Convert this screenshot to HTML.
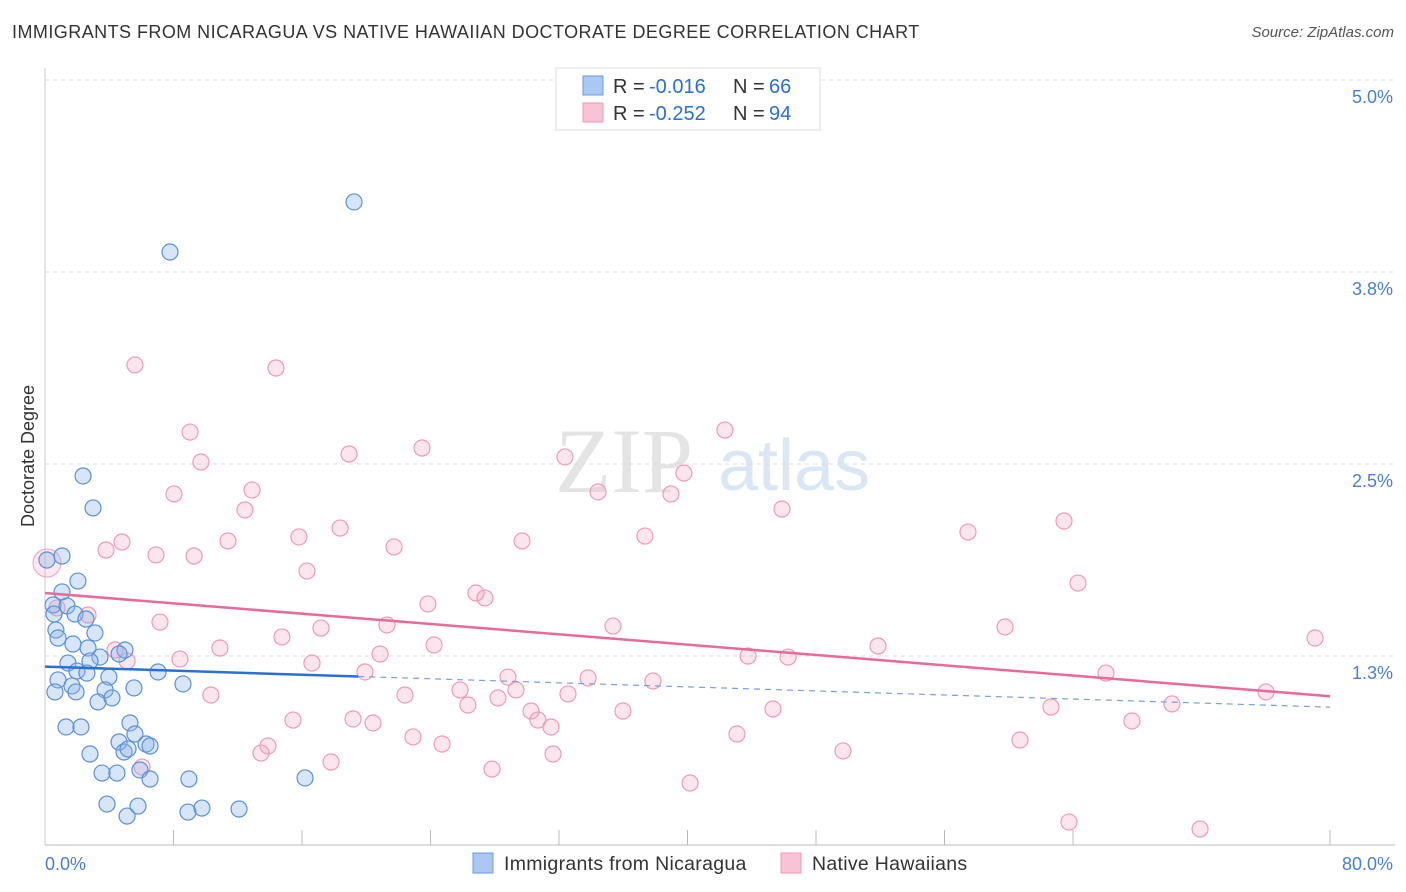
<!DOCTYPE html>
<html><head><meta charset="utf-8">
<style>
body{margin:0;background:#fff;font-family:"Liberation Sans",sans-serif;}
#wrap{position:relative;width:1406px;height:892px;overflow:hidden;}
.title{position:absolute;left:12px;top:22px;font-size:18px;color:#333;letter-spacing:0.45px;}
.source{position:absolute;right:12px;top:24px;font-size:15px;color:#555;font-style:italic;}
</style></head><body>
<div id="wrap">
<div class="title">IMMIGRANTS FROM NICARAGUA VS NATIVE HAWAIIAN DOCTORATE DEGREE CORRELATION CHART</div>
<div class="source">Source: ZipAtlas.com</div>
<svg id="svg" width="1406" height="892" style="position:absolute;left:0;top:0"></svg>
</div>
<script>
const bluePx=[[354,202],[170,252],[83,476],[93,508],[47,560],[62,556],[78,581],[62,592],[53,605],[67,606],[54,614],[75,614],[86,619],[56,630],[95,633],[58,638],[73,644],[88,648],[125,650],[119,654],[100,657],[90,661],[68,663],[77,671],[87,673],[109,677],[158,672],[58,680],[72,686],[105,690],[134,688],[183,684],[55,692],[76,692],[98,702],[112,698],[130,723],[66,727],[81,727],[135,734],[119,742],[146,744],[150,746],[124,752],[128,749],[90,754],[140,770],[102,773],[117,773],[150,779],[189,779],[305,778],[107,804],[138,806],[188,812],[202,808],[239,809],[127,816]];
const pinkPx=[[135,365],[276,368],[190,432],[725,430],[201,462],[349,454],[422,448],[565,457],[684,473],[174,494],[252,490],[598,492],[671,494],[245,510],[782,509],[340,528],[299,537],[1064,521],[968,532],[122,542],[228,541],[522,541],[645,536],[106,550],[156,555],[194,556],[394,547],[307,571],[1078,583],[476,593],[485,598],[428,604],[57,608],[88,615],[160,622],[613,626],[1005,627],[387,625],[321,628],[282,637],[434,645],[1315,638],[220,648],[115,650],[127,661],[180,659],[380,654],[878,646],[748,656],[788,657],[312,663],[365,672],[1106,673],[508,677],[588,678],[653,681],[460,690],[516,690],[405,695],[568,694],[1266,692],[211,695],[468,705],[498,698],[531,711],[623,711],[1051,707],[1172,704],[773,709],[293,720],[353,719],[373,723],[538,720],[551,727],[1132,721],[413,737],[442,744],[737,734],[1020,740],[268,746],[261,753],[843,751],[331,762],[553,754],[492,769],[142,767],[690,783],[1069,822],[1200,829]];
const X0=45,X1=1330,Y0=848,YS=153.6;
const blueX=bluePx.map(p=>+((p[0]-X0)/(X1-X0)*80).toFixed(2));
const blueY=bluePx.map(p=>+((Y0-p[1])/YS).toFixed(3));
const pinkX=pinkPx.map(p=>+((p[0]-X0)/(X1-X0)*80).toFixed(2));
const pinkY=pinkPx.map(p=>+((Y0-p[1])/YS).toFixed(3));
const yTicks=[5.0,3.75,2.5,1.25];
const yTickLabels=["5.0%","3.8%","2.5%","1.3%"];
const blueTrend=[0,1.181,80,0.917];
const pinkTrend=[0,1.66,80,0.988];
const sx=v=>X0+v/80*(X1-X0), sy=v=>Y0-v*YS;
const svg=document.getElementById('svg'),NS='http://www.w3.org/2000/svg';
function mk(t,a,p){const e=document.createElementNS(NS,t);for(const k in a)e.setAttribute(k,a[k]);(p||svg).appendChild(e);return e;}
let w=mk('text',{x:555,y:492,'font-size':92,fill:'#e4e4e4','font-family':'Liberation Serif'});w.textContent='ZIP';


let w2=mk('text',{x:718,y:490,'font-size':72,fill:'#dbe6f5'});w2.textContent='atlas';


yTicks.forEach((v,i)=>{
 const g=mk('line',{x1:45,x2:1395,y1:sy(v),y2:sy(v),stroke:'#ddd','stroke-dasharray':'4,4'});
 
 
 const t=mk('text',{x:1393,y:sy(v)+23,'text-anchor':'end','font-size':18,fill:'#4a7fd0'});t.textContent=yTickLabels[i];
 
 
});
let ax=mk('line',{x1:45,x2:1395,y1:845,y2:845,stroke:'#bbb'});


let ay=mk('line',{x1:45,x2:45,y1:68,y2:845,stroke:'#ccc'});


for(let i=1;i<=10;i++){if(i==9)continue;const x=sx(i*8);const tk=mk('line',{x1:x,x2:x,y1:830,y2:845,stroke:'#bbb'});
 
 }
let xl=mk('text',{x:45,y:870,'font-size':18,fill:'#4a7fd0'});xl.textContent='0.0%';


let xr=mk('text',{x:1393,y:870,'font-size':18,fill:'#4a7fd0','text-anchor':'end'});xr.textContent='80.0%';


let yt=mk('text',{x:34,y:456,'font-size':18,fill:'#333','text-anchor':'middle',transform:'rotate(-90 34 456)'});yt.textContent='Doctorate Degree';


let bp=mk('circle',{cx:47,cy:563,r:14,fill:'rgba(240,160,190,0.25)',stroke:'#f0a0be'});


pinkX.forEach((x,i)=>{const c=mk('circle',{cx:sx(x),cy:sy(pinkY[i]),r:8,fill:'rgba(244,170,195,0.3)',stroke:'#ee9ab8','stroke-width':1.2});
 
 });
blueX.forEach((x,i)=>{const c=mk('circle',{cx:sx(x),cy:sy(blueY[i]),r:8,fill:'rgba(140,180,235,0.35)',stroke:'#5a90d8','stroke-width':1.2});
 
 });
const bx=19.5, by=blueTrend[1]+(blueTrend[3]-blueTrend[1])*bx/80;
let t1=mk('line',{x1:sx(0),y1:sy(blueTrend[1]),x2:sx(bx),y2:sy(by),stroke:'#2a6fd6','stroke-width':2.5});


let t2=mk('line',{x1:sx(bx),y1:sy(by),x2:sx(80),y2:sy(blueTrend[3]),stroke:'#7aa0d8','stroke-width':1.2,'stroke-dasharray':'6,5'});


let t3=mk('line',{x1:sx(0),y1:sy(pinkTrend[1]),x2:sx(80),y2:sy(pinkTrend[3]),stroke:'#e8699a','stroke-width':2.5});


let lg=mk('rect',{x:556,y:68,width:264,height:62,fill:'#fff',stroke:'#ddd'});


[[0,'#a9c8f2','#6a9ae0','-0.016','66'],[1,'#f8c3d4','#ee9ab8','-0.252','94']].forEach(r=>{
 const y=76+r[0]*27;
 const s=mk('rect',{x:583,y:y,width:20,height:19,fill:r[1],stroke:r[2]});
 
 
 const parts=[[613,'R =','#333'],[649,r[3],'#2a6fd6'],[733,'N =','#333'],[769,r[4],'#2a6fd6']];
 parts.forEach(p=>{
  const t=mk('text',{x:p[0],y:y+17,'font-size':20,fill:p[2]});t.textContent=p[1];
  
  
 });
});
[[473,'#a9c8f2','#6a9ae0','Immigrants from Nicaragua'],[781,'#f8c3d4','#ee9ab8','Native Hawaiians']].forEach(r=>{
 const s=mk('rect',{x:r[0],y:853,width:20,height:20,fill:r[1],stroke:r[2]});
 
 
 const t=mk('text',{x:r[0]+31,y:870,'font-size':19.5,fill:'#333','letter-spacing':'0.3'});t.textContent=r[3];
 
 
});
</script>
</body></html>
